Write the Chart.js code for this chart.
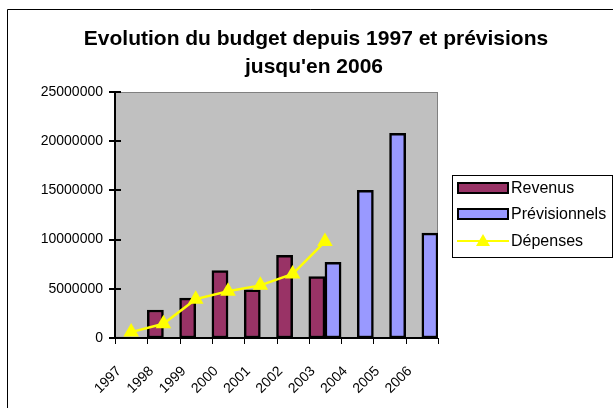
<!DOCTYPE html>
<html>
<head>
<meta charset="utf-8">
<script src="https://cdn.jsdelivr.net/npm/chart.js@4.4.0/dist/chart.umd.min.js"></script>
<style>
body { margin: 0; background: #fff; overflow: hidden; }
</style>
</head>
<body>
<canvas id="budget" width="613" height="408"></canvas>
<script>
// donnees
var annees = ['1997', '1998', '1999', '2000', '2001', '2002', '2003', '2004', '2005', '2006'];
var revenus = [100000, 2850000, 4050000, 6850000, 4900000, 8400000, 6250000, null, null, null];
var previsionnels = [null, null, null, null, null, null, 7700000, 15000000, 20800000, 10650000];
var depenses = [600000, 1450000, 3950000, 4750000, 5350000, 6500000, 9800000, null, null, null];
var yTicks = [0, 5000000, 10000000, 15000000, 20000000, 25000000];
var titre = ['Evolution du budget depuis 1997 et prévisions', "jusqu'en 2006"];

var police = '"Liberation Sans", Arial, sans-serif';

/**
 * decor
 * Draws the frame, plot background, title, axis ticks and legend
 */
var decor = {
    id: 'decor',
    beforeDraw: function(chart) {
        var ctx = chart.ctx;
        var a = chart.chartArea;
        ctx.save();
        ctx.fillStyle = '#fff';
        ctx.fillRect(0, 0, chart.width, chart.height);
        // cadre du graphique
        ctx.strokeStyle = '#000';
        ctx.lineWidth = 1;
        ctx.beginPath();
        ctx.moveTo(7.5, chart.height);
        ctx.lineTo(7.5, 9.5);
        ctx.lineTo(chart.width, 9.5);
        ctx.stroke();
        // zone de traçage
        ctx.fillStyle = '#c0c0c0';
        ctx.fillRect(a.left, a.top, a.right - a.left, a.bottom - a.top);
        ctx.strokeStyle = '#808080';
        ctx.strokeRect(a.left + 0.5, a.top + 0.5, a.right - a.left - 1, a.bottom - a.top);
        // titre
        ctx.fillStyle = '#000';
        ctx.font = 'bold 21px ' + police;
        ctx.textAlign = 'center';
        ctx.textBaseline = 'alphabetic';
        ctx.fillText(titre[0], 316, 45);
        ctx.fillText(titre[1], 314, 73);
        ctx.restore();
    },
    afterDraw: function(chart) {
        var ctx = chart.ctx;
        var a = chart.chartArea;
        var x = chart.scales.x;
        var y = chart.scales.y;
        ctx.save();
        ctx.strokeStyle = '#000';
        ctx.lineWidth = 2;
        // axes
        ctx.beginPath();
        ctx.moveTo(a.left, a.top);
        ctx.lineTo(a.left, a.bottom);
        ctx.lineTo(a.right, a.bottom);
        ctx.stroke();
        // graduations verticales
        ctx.beginPath();
        for (var i = 0; i < yTicks.length; i++) {
            var py = Math.round(y.getPixelForValue(yTicks[i]));
            ctx.moveTo(a.left - 6, py);
            ctx.lineTo(a.left + 6, py);
        }
        ctx.stroke();
        // graduations horizontales
        var half = (x.getPixelForValue(1) - x.getPixelForValue(0)) / 2;
        ctx.lineWidth = 1;
        ctx.beginPath();
        for (var j = 0; j <= annees.length; j++) {
            var px = Math.round(x.getPixelForValue(j) - half) + 0.5;
            ctx.moveTo(px, a.bottom);
            ctx.lineTo(px, a.bottom + 6);
        }
        ctx.stroke();

        // legende
        var ds = chart.data.datasets;
        ctx.lineWidth = 1;
        ctx.strokeRect(452.5, 175.5, 160, 82);
        ctx.font = '16px ' + police;
        ctx.textAlign = 'left';
        ctx.textBaseline = 'middle';
        var rows = [188, 214, 241];
        for (var k = 0; k < ds.length; k++) {
            var ry = rows[k];
            if (ds[k].type == 'line') {
                ctx.strokeStyle = ds[k].borderColor;
                ctx.lineWidth = 2;
                ctx.beginPath();
                ctx.moveTo(457, ry);
                ctx.lineTo(509, ry);
                ctx.stroke();
                ctx.fillStyle = ds[k].pointBackgroundColor;
                ctx.beginPath();
                ctx.moveTo(483, ry - 7);
                ctx.lineTo(490, ry + 5);
                ctx.lineTo(476, ry + 5);
                ctx.closePath();
                ctx.fill();
            } else {
                ctx.fillStyle = ds[k].backgroundColor;
                ctx.fillRect(458, ry - 5, 50, 10);
                ctx.strokeStyle = '#000';
                ctx.lineWidth = 2;
                ctx.strokeRect(458, ry - 5, 50, 10);
            }
            ctx.fillStyle = '#000';
            ctx.fillText(ds[k].label, 511, ry + 1);
        }
        ctx.restore();
    }
};

function main() {
    var ctx = document.getElementById('budget').getContext('2d');
    new Chart(ctx, {
        type: 'bar',
        data: {
            labels: annees,
            datasets: [
                {
                    label: 'Revenus',
                    data: revenus,
                    backgroundColor: '#993366',
                    borderColor: '#000',
                    borderWidth: 2.5,
                    borderSkipped: false,
                    categoryPercentage: 1,
                    barPercentage: 1,
                    order: 2
                },
                {
                    label: 'Prévisionnels',
                    data: previsionnels,
                    backgroundColor: '#9999ff',
                    borderColor: '#000',
                    borderWidth: 2.5,
                    borderSkipped: false,
                    categoryPercentage: 1,
                    barPercentage: 1,
                    order: 2
                },
                {
                    type: 'line',
                    label: 'Dépenses',
                    data: depenses,
                    borderColor: '#ffff00',
                    borderWidth: 2.5,
                    pointStyle: 'triangle',
                    pointRadius: 9,
                    pointBorderWidth: 0,
                    pointBackgroundColor: '#ffff00',
                    pointBorderColor: '#ffff00',
                    spanGaps: false,
                    order: 0
                }
            ]
        },
        options: {
            responsive: false,
            animation: false,
            devicePixelRatio: 1,
            layout: { padding: { left: 0, top: 92, right: 175, bottom: 0 } },
            plugins: {
                legend: { display: false },
                title: { display: false },
                tooltip: { enabled: false }
            },
            scales: {
                x: {
                    offset: true,
                    grid: { display: false },
                    border: { display: false },
                    ticks: {
                        color: '#000',
                        font: { family: police, size: 14 },
                        minRotation: 45,
                        maxRotation: 45,
                        padding: 17,
                        labelOffset: -12
                    },
                    afterFit: function(s) { s.height = 70; }
                },
                y: {
                    min: 0,
                    max: 25000000,
                    grid: { display: false },
                    border: { display: false },
                    ticks: {
                        color: '#000',
                        font: { family: police, size: 14 },
                        stepSize: 5000000,
                        padding: 4,
                        callback: function(v) { return String(v); }
                    },
                    afterFit: function(s) { s.width = 115; }
                }
            }
        },
        plugins: [decor]
    });
}

main();
</script>
</body>
</html>
